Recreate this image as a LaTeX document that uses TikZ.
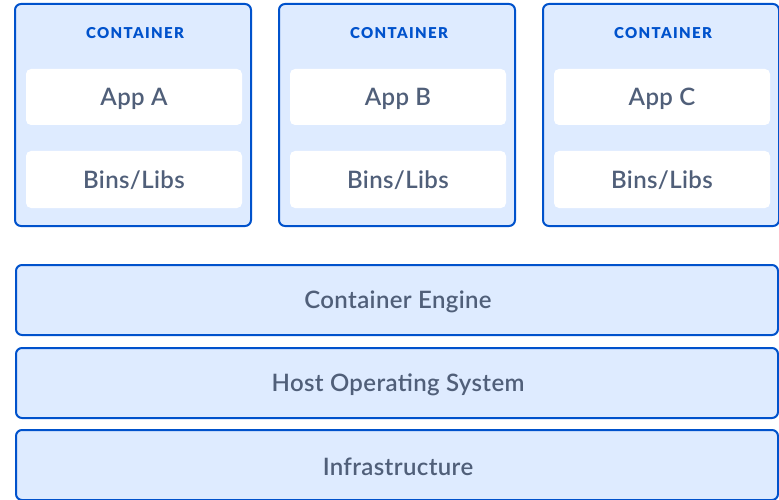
\documentclass[tikz,border=0pt]{standalone}
\usepackage{fontspec}
\setmainfont{Lato}[UprightFont={* Semibold},BoldFont={* Black},LetterSpace=1.5]
\newfontfamily\capsfont{Lato}[UprightFont={* Black},LetterSpace=9]
\definecolor{boxfill}{HTML}{DEEBFF}
\definecolor{boxline}{HTML}{0052CC}
\definecolor{txt}{HTML}{505F79}
\begin{document}
\begin{tikzpicture}[x=1pt,y=-1pt,
  outerbox/.style={draw=boxline,fill=boxfill,line width=2pt,rounded corners=6pt},
  innerbox/.style={fill=white,rounded corners=5pt},
  lbl/.style={text=txt,font=\fontsize{24}{27}\selectfont},
  ctitle/.style={text=boxline,font=\capsfont\fontsize{15}{17}\selectfont}]
\useasboundingbox (0,0) rectangle (779,500);
\foreach \n/\x/\t in {a/15/A,b/279/B,c/543/C}{
  \draw[outerbox] (\x,4) rectangle ++(236,222);
  \node[ctitle] (t\n) at (\x+120,33.5) {CONTAINER};
  \fill[innerbox] (\x+11,69) rectangle ++(216,56);
  \node[lbl] (app\n) at (\x+119,98.5) {App \t};
  \fill[innerbox] (\x+11,151) rectangle ++(216,57);
  \node[lbl] (bins\n) at (\x+119,180.5) {Bins/Libs};
}
\draw[outerbox] (16,265) rectangle (778,335);
\node[lbl] (engine) at (398,301.5) {Container Engine};
\draw[outerbox] (16,348) rectangle (778,418);
\node[lbl] (host) at (398,384.5) {Host Operating System};
\draw[outerbox] (16,430) rectangle (778,500);
\node[lbl] (infra) at (398,466.5) {Infrastructure};
\end{tikzpicture}
\end{document}
